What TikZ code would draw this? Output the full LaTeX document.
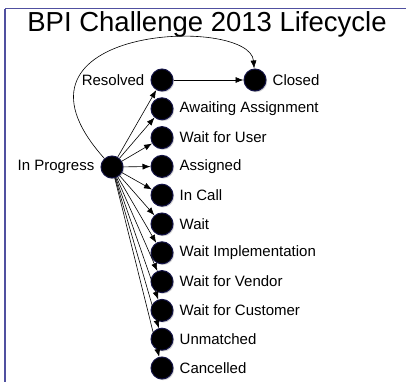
\documentclass[tikz,border=0pt]{standalone}
\usepackage{fontspec}
\setmainfont{Liberation Sans}
\usetikzlibrary{arrows.meta,shadows}
\definecolor{framecol}{RGB}{80,80,160}
\definecolor{ringcol}{RGB}{20,20,70}
\tikzset{
  state/.style={circle, fill=black, draw=ringcol, line width=1pt,
    minimum size=22pt, inner sep=0pt,
    drop shadow={shadow xshift=1.2pt, shadow yshift=-1.2pt, fill=black!35}},
  lbl/.style={inner sep=0pt, font=\fontsize{15}{18}\selectfont},
  rl/.style={label={[lbl, label distance=6pt]right:#1}},
  ll/.style={label={[lbl, label distance=6pt]left:#1}},
  arr/.style={-{Latex[length=8pt,width=6pt]}, line width=0.6pt, black},
}
\begin{document}
\begin{tikzpicture}[x=1pt, y=-1pt]
  \useasboundingbox (0,0) rectangle (406,382);
  % frame
  \draw[framecol, line width=1pt] (5,9) -- (406,9);
  \draw[framecol, line width=1.6pt] (5,9) -- (5,382);
  % title
  \node[anchor=base, inner sep=0pt, font=\fontsize{27.5}{32}\selectfont] (title) at (207,32) {BPI Challenge 2013 Lifecycle};

  % states
  \node[state, ll={In Progress}] (ip) at (112,167) {};
  \node[state, ll={Resolved}] (res) at (162,80) {};
  \node[state, rl={Closed}] (clo) at (255,80) {};
  \node[state, rl={Awaiting Assignment}] (awa) at (162,108.8) {};
  \node[state, rl={Wait for User}] (wfu) at (162,137.6) {};
  \node[state, rl={Assigned}] (asg) at (162,166.4) {};
  \node[state, rl={In Call}] (inc) at (162,195.2) {};
  \node[state, rl={Wait}] (wai) at (162,224) {};
  \node[state, rl={Wait Implementation}] (wim) at (162,252.8) {};
  \node[state, rl={Wait for Vendor}] (wfv) at (162,281.6) {};
  \node[state, rl={Wait for Customer}] (wfc) at (162,310.4) {};
  \node[state, rl={Unmatched}] (unm) at (162,339.2) {};
  \node[state, rl={Cancelled}] (can) at (162,368) {};

  % transitions
  \draw[arr] (res) -- (clo);
  \draw[arr] (ip) .. controls (-15,25) and (250,15) .. (clo);
  \foreach \t in {res,awa,wfu,asg,inc,wai,wim,wfv,wfc,unm,can}
    \draw[arr] (ip) -- (\t);
\end{tikzpicture}
\end{document}
